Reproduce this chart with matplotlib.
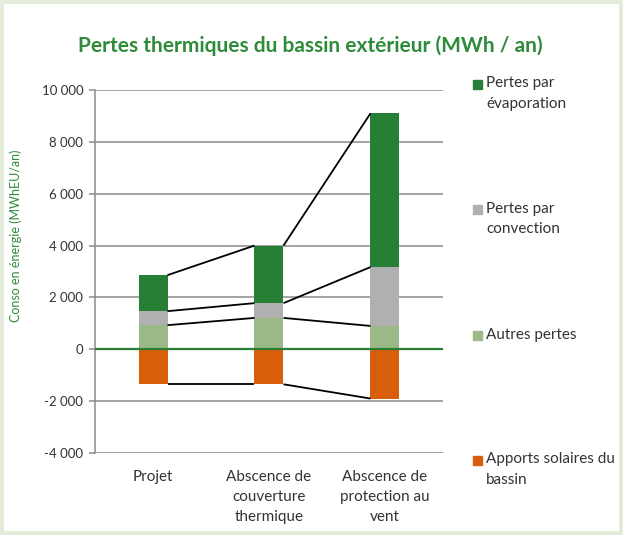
import numpy as np
import matplotlib
matplotlib.use("Agg")
import matplotlib.pyplot as plt
from matplotlib.patches import Rectangle

plt.rcParams['font.family'] = ['Lato', 'DejaVu Sans']

# data (MWh / an)
categories = ["Projet", "Abscence de\ncouverture\nthermique", "Abscence de\nprotection au\nvent"]
apports_solaires = [-1350, -1350, -1900]
autres_pertes = [930, 1210, 900]
pertes_convection = [540, 570, 2270]
pertes_evaporation = [1390, 2220, 5930]

yticks = [-4000, -2000, 0, 2000, 4000, 6000, 8000, 10000]

c_evap = '#267f35'
c_conv = '#b0b0b0'
c_autres = '#9bb986'
c_solaire = '#d85e0c'
green_txt = '#2e8b3a'

W, H = 623, 557
fig = plt.figure(figsize=(W / 100, H / 100), dpi=100)

# light green frame around the chart area
fig.patches.append(Rectangle((1.5 / W, 1 - 533 / H), 619.5 / W, 531.5 / H,
                             transform=fig.transFigure, fill=False,
                             edgecolor='#e2ebd8', linewidth=2.6))

ax = fig.add_axes([95 / W, 1 - 453 / H, 348 / W, 363 / H])

x = np.arange(len(categories))
bw = 0.25

solar = np.array(apports_solaires)
s1 = np.array(autres_pertes)
s2 = s1 + np.array(pertes_convection)
s3 = s2 + np.array(pertes_evaporation)

ax.bar(x, solar, bw, color=c_solaire, zorder=3)
ax.bar(x, autres_pertes, bw, color=c_autres, zorder=3)
ax.bar(x, pertes_convection, bw, bottom=s1, color=c_conv, zorder=3)
ax.bar(x, pertes_evaporation, bw, bottom=s2, color=c_evap, zorder=3)

# series lines between bars
for lvl in [solar, s1, s2, s3]:
    for i in range(len(x) - 1):
        ax.plot([x[i] + bw / 2, x[i + 1] - bw / 2], [lvl[i], lvl[i + 1]],
                color='black', lw=1.3, zorder=4, solid_capstyle='butt')

ax.set_xlim(-0.5, 2.5)
ax.set_ylim(-4000, 10000)
ax.set_yticks(yticks)
ax.set_yticklabels([f"{v:,}".replace(",", " ") for v in yticks])
ax.set_xticks(x)
ax.set_xticklabels(categories, linespacing=1.55)

ax.grid(axis='y', color='#8a8a8a', lw=1.1, zorder=1)
ax.axhline(0, color='#2a7f34', lw=1.6, zorder=5)

for s in ['top', 'right', 'bottom']:
    ax.spines[s].set_visible(False)
ax.spines['left'].set_color('#8a8a8a')
ax.spines['left'].set_linewidth(1.1)

ax.tick_params(axis='y', length=4.5, width=1.1, color='#8a8a8a', pad=4,
               labelsize=9.5, labelcolor='#333333')
ax.tick_params(axis='x', length=0, pad=12, labelsize=11, labelcolor='#333333')
for lab in ax.get_xticklabels():
    lab.set_verticalalignment('top')

fig.text(310 / W, 1 - 46 / H, "Pertes thermiques du bassin extérieur (MWh / an)",
         ha='center', va='center', fontsize=15, fontweight='bold', color=green_txt)

fig.text(16 / W, 1 - 236 / H, "Conso en énergie (MWhEU/an)", rotation=90,
         ha='center', va='center', fontsize=9, color=green_txt)

# legend on the right, one entry per band
legend = [("Pertes par\névaporation", c_evap, 84),
          ("Pertes par\nconvection", c_conv, 209),
          ("Autres pertes", c_autres, 335),
          ("Apports solaires du\nbassin", c_solaire, 460)]
for label, col, ypx in legend:
    fig.patches.append(Rectangle((473 / W, 1 - (ypx + 4.5) / H), 9 / W, 9 / H,
                                 transform=fig.transFigure, color=col))
    fig.text(486 / W, 1 - (ypx - 7.5) / H, label, ha='left', va='top',
             fontsize=11, color='#333333', linespacing=1.55)

fig.savefig("out.png", dpi=100)
